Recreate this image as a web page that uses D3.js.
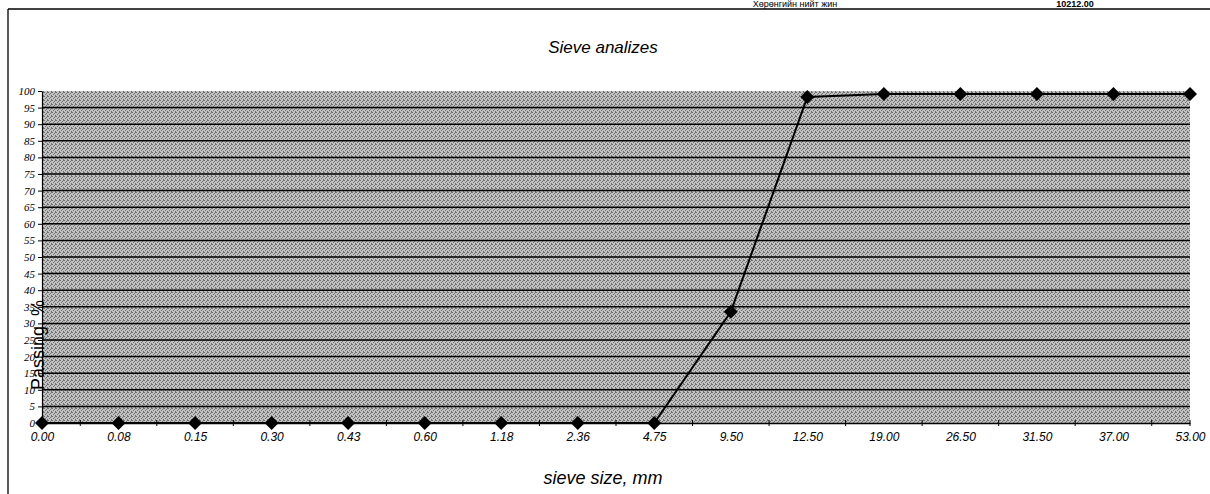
<!DOCTYPE html>
<html><head><meta charset="utf-8">
<script src="https://cdn.jsdelivr.net/npm/d3@7"></script>
<style>html,body{margin:0;padding:0;background:#fff;}svg{display:block;}</style>
</head><body>
<script>
const categories = ["0.00","0.08","0.15","0.30","0.43","0.60","1.18","2.36","4.75","9.50","12.50","19.00","26.50","31.50","37.00","53.00"];
const passing = [0,0,0,0,0,0,0,0,0,33.5,98.2,99.1,99.1,99.1,99.1,99.1];
const yTicks = [0,5,10,15,20,25,30,35,40,45,50,55,60,65,70,75,80,85,90,95,100];
const titleText = "Sieve analizes";
const xTitle = "sieve size, mm";
const yTitle = "Passing, %";
const headerLeft = "Хөрөнгийн нийт жин";
const headerRight = "10212.00";

const W = 1210, H = 494;
const m = {left:42, right:20, top:91, bottom:71};
const svg = d3.select("body").append("svg").attr("width", W).attr("height", H);

// dither pattern
const defs = svg.append("defs");
const pat = defs.append("pattern").attr("id","dith").attr("width",4).attr("height",4).attr("patternUnits","userSpaceOnUse");
pat.append("rect").attr("width",4).attr("height",4).attr("fill","#c2c2c2");
[[0,0],[2,1],[1,2],[3,3],[3,0]].forEach(([a,b])=>pat.append("rect").attr("x",a).attr("y",b).attr("width",1).attr("height",1).attr("fill","#707070"));

// header (top edge)
svg.append("text").attr("x",795).attr("y",7).attr("text-anchor","middle")
  .attr("font-family","Liberation Sans, Arial, sans-serif").attr("font-size",9).attr("fill","#000").text(headerLeft);
svg.append("text").attr("x",1075).attr("y",7).attr("text-anchor","middle")
  .attr("font-family","Liberation Sans, Arial, sans-serif").attr("font-weight","bold").attr("font-size",9).attr("fill","#000").text(headerRight);
// frame
svg.append("line").attr("x1",8).attr("x2",1210).attr("y1",9).attr("y2",9).attr("stroke","#000").attr("stroke-width",1.3);
svg.append("line").attr("x1",8).attr("x2",8).attr("y1",9).attr("y2",494).attr("stroke","#000").attr("stroke-width",1.3);

const x = d3.scalePoint().domain(categories).range([m.left, W - m.right]).padding(0);
const y = d3.scaleLinear().domain([0,100]).range([H - m.bottom, m.top]);

// plot bg
svg.append("rect").attr("x",m.left).attr("y",y(100)).attr("width",x.range()[1]-m.left).attr("height",y(0)-y(100)).attr("fill","url(#dith)");

// gridlines
svg.append("g").selectAll("line").data(yTicks.filter(d=>d>0 && d<100)).join("line")
  .attr("x1",m.left).attr("x2",x.range()[1]).attr("y1",d=>y(d)).attr("y2",d=>y(d))
  .attr("stroke","#000").attr("stroke-width",1.5);

// y axis
const ya = svg.append("g").attr("transform",`translate(${m.left},0)`)
  .call(d3.axisLeft(y).tickValues(yTicks).tickSize(4).tickSizeOuter(0));
ya.select(".domain").attr("stroke","#000").attr("stroke-width",1.2);
ya.selectAll("text").attr("font-family","Liberation Serif, Times New Roman, serif").attr("font-style","italic").attr("font-size",11).attr("fill","#000");

// x axis
const xa = svg.append("g").attr("transform",`translate(0,${y(0)})`)
  .call(d3.axisBottom(x).tickSize(0).tickPadding(9));
xa.select(".domain").attr("stroke","#000").attr("stroke-width",1.5);
xa.selectAll("text").attr("font-family","Liberation Sans, Arial, sans-serif").attr("font-style","italic").attr("font-size",12).attr("fill","#000");
const step = x.step();
const tickPos = categories.slice(0,-1).map(c=>x(c)+step/2).concat([x.range()[1]]);
xa.append("g").selectAll("line").data(tickPos).join("line")
  .attr("x1",d=>d).attr("x2",d=>d).attr("y1",-3).attr("y2",3).attr("stroke","#000").attr("stroke-width",1);

// line
const pts = categories.map((c,i)=>[x(c), y(passing[i])]);
svg.append("path").attr("d", d3.line()(pts)).attr("fill","none").attr("stroke","#000").attr("stroke-width",2);
svg.append("g").selectAll("path").data(categories).join("path")
  .attr("transform",(c,i)=>`translate(${x(c)},${y(passing[i])})`)
  .attr("d","M0,-7L7,0L0,7L-7,0Z").attr("fill","#000");

// titles
svg.append("text").attr("x",603).attr("y",53).attr("text-anchor","middle")
  .attr("font-family","Liberation Sans, Arial, sans-serif").attr("font-style","italic").attr("font-size",17).attr("fill","#000").text(titleText);
svg.append("text").attr("x",603).attr("y",484).attr("text-anchor","middle")
  .attr("font-family","Liberation Sans, Arial, sans-serif").attr("font-style","italic").attr("font-size",18).attr("fill","#000").text(xTitle);
svg.append("text").attr("transform","translate(44,345) rotate(-90)").attr("text-anchor","middle")
  .attr("font-family","Liberation Sans, Arial, sans-serif").attr("font-size",18).attr("fill","#000").text(yTitle);
</script>
</body></html>
